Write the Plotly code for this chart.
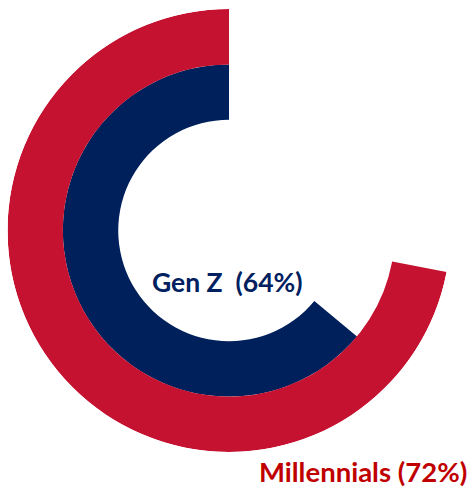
import plotly.graph_objects as go

# Share of each generation, drawn as concentric radial bars
groups = ["Gen Z", "Millennials"]
shares = [64, 72]            # percent
ring_base = [2, 3]           # inner radius of each ring (radial units)
ring_thickness = [1, 1]
ring_colors = ["#00205B", "#C41230"]
label_colors = ["#002060", "#C00000"]

fig = go.Figure()
for name, pct, base, thick, col in zip(groups, shares, ring_base, ring_thickness, ring_colors):
    sweep = pct * 3.6
    fig.add_trace(go.Barpolar(
        r=[thick],
        base=[base],
        theta=[sweep / 2],
        width=[sweep],
        marker=dict(color=col, line=dict(width=0)),
        name=name,
        hoverinfo="skip",
    ))

fig.update_layout(
    width=471, height=487,
    margin=dict(l=0, r=0, t=0, b=0),
    paper_bgcolor="white",
    showlegend=False,
    polar=dict(
        domain=dict(x=[0.0159, 0.9565], y=[0.0719, 0.9815]),
        bgcolor="white",
        barmode="overlay",
        radialaxis=dict(range=[0, 4], visible=False, showgrid=False),
        angularaxis=dict(rotation=90, direction="counterclockwise",
                         visible=False, showgrid=False),
    ),
    annotations=[
        dict(text=f"<b>{groups[0]}  ({shares[0]}%)</b>", x=227 / 471, y=1 - 282 / 487,
             xref="paper", yref="paper", xanchor="center", yanchor="middle",
             showarrow=False, font=dict(family="Lato", size=26.5, color=label_colors[0])),
        dict(text=f"<b>{groups[1]} ({shares[1]}%)</b>", x=469 / 471, y=1 - 471.5 / 487,
             xref="paper", yref="paper", xanchor="right", yanchor="middle",
             showarrow=False, font=dict(family="Lato", size=27.5, color=label_colors[1])),
    ],
)

fig.write_html("out.html")
